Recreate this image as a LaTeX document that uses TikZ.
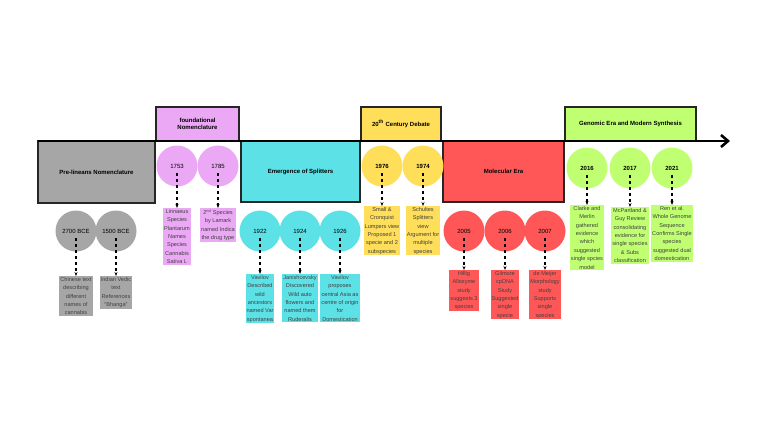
\documentclass[tikz,border=0pt]{standalone}
\usepackage{fontspec}
\setmainfont{Liberation Sans}
\usetikzlibrary{arrows.meta}
\definecolor{cgray}{HTML}{A6A6A6}
\definecolor{cpink}{HTML}{EBA8F5}
\definecolor{ccyan}{HTML}{5CE1E6}
\definecolor{cyell}{HTML}{FFDE59}
\definecolor{cred}{HTML}{FF5757}
\definecolor{cgreen}{HTML}{C1FF72}

\begin{document}
\begin{tikzpicture}[x=1pt,y=-1pt]

\tikzstyle era=[draw=black!85, line width=1.4pt, font=\fontsize{6}{7}\selectfont\bfseries, align=center, inner sep=0pt]
\tikzstyle year=[circle, minimum size=41pt, inner sep=0pt, font=\fontsize{6}{7}\selectfont]
\tikzstyle note=[align=center, inner sep=1pt, font=\fontsize{5.6}{8.4}\selectfont, text=black!75, anchor=north]
\tikzstyle link=[-{Stealth[length=4pt]}, dashed, line width=1.1pt]

\useasboundingbox (0,0) rectangle (768,432);

% eras
\node (pre) [era, fill=cgray, minimum width=117pt, minimum height=62pt] at (96.5,172) {Pre-lineans Nomenclature};
\node (fnd) [era, fill=cpink, minimum width=83pt, minimum height=34pt] at (197.5,124) {foundational\\Nomenclature};
\node (spl) [era, fill=ccyan, minimum width=119pt, minimum height=61pt] at (300.5,171.5) {Emergence of Splitters};
\node (deb) [era, fill=cyell, minimum width=80pt, minimum height=34pt] at (401,124) {20\textsuperscript{th} Century Debate};
\node (mol) [era, fill=cred, minimum width=121pt, minimum height=61pt] at (503.5,171.5) {Molecular Era};
\node (gen) [era, fill=cgreen, minimum width=131pt, minimum height=34pt] at (630.5,124) {Genomic Era and Modern Synthesis};

% timeline
\coordinate (t0) at (38,141);
\coordinate (t1) at (730,141);
\draw [-{Straight Barb[length=7pt,width=12pt]}, line width=2.6pt] (t0) -- (t1);

% years
\node (y1) [year, fill=cgray] at (76,231) {2700 BCE};
\node (y2) [year, fill=cgray] at (116,231) {1500 BCE};
\node (y3) [year, fill=cpink] at (177,166) {1753};
\node (y4) [year, fill=cpink] at (218,166) {1785};
\node (y5) [year, fill=ccyan] at (260,231) {1922};
\node (y6) [year, fill=ccyan] at (300,231) {1924};
\node (y7) [year, fill=ccyan] at (340,231) {1926};
\node (y8) [year, fill=cyell, font=\fontsize{6}{7}\selectfont\bfseries] at (382,166) {1976};
\node (y9) [year, fill=cyell, font=\fontsize{6}{7}\selectfont\bfseries] at (423,166) {1974};
\node (y10) [year, fill=cred] at (464,231) {2005};
\node (y11) [year, fill=cred] at (505,231) {2006};
\node (y12) [year, fill=cred] at (545,231) {2007};
\node (y13) [year, fill=cgreen, font=\fontsize{6}{7}\selectfont\bfseries] at (587,168) {2016};
\node (y14) [year, fill=cgreen, font=\fontsize{6}{7}\selectfont\bfseries] at (630,168) {2017};
\node (y15) [year, fill=cgreen, font=\fontsize{6}{7}\selectfont\bfseries] at (672,168) {2021};

% notes
\node (n1) [note, fill=cgray] at (76,276) {Chinese text\\describing\\different\\names of\\cannabis};
\node (n2) [note, fill=cgray] at (116,276) {Indian Vedic\\text\\References\\``Bhanga''};
\node (n3) [note, fill=cpink] at (177,208) {Linnaeus\\Species\\Plantarum\\Names\\Species\\Cannabis\\Sativa L};
\node (n4) [note, fill=cpink] at (218,208) {2\textsuperscript{nd} Species\\by Lamark\\named Indica\\the drug type};
\node (n5) [note, fill=ccyan] at (260,274) {Vavilov\\Described\\wild\\ancestors\\named Var\\spontanea};
\node (n6) [note, fill=ccyan] at (300,274) {Janishcevsky\\Discovered\\Wild auto\\flowers and\\named them\\Ruderalis};
\node (n7) [note, fill=ccyan] at (340,274) {Vavilov\\proposes\\central Asia as\\centre of origin\\for\\Domestication};
\node (n8) [note, fill=cyell] at (382,206) {Small \&\\Cronquist\\Lumpers view\\Proposed 1\\specie and 2\\subspecies};
\node (n9) [note, fill=cyell] at (423,206) {Schultes\\Splitters\\view\\Argument for\\multiple\\species};
\node (n10) [note, fill=cred] at (464,270) {Hillig\\Allozyme\\study\\suggests 3\\species};
\node (n11) [note, fill=cred] at (505,270) {Gilmore\\cpDNA\\Study\\Suggested\\single\\specie};
\node (n12) [note, fill=cred] at (545,270) {de Meijer\\Morphology\\study\\Supports\\single\\species};
\node (n13) [note, fill=cgreen] at (587,205) {Clarke and\\Merlin\\gathered\\evidence\\which\\suggested\\single spcies\\model};
\node (n14) [note, fill=cgreen] at (630,207) {McPartland \&\\Guy Review\\consolidating\\evidence for\\single species\\\& Subs\\classification};
\node (n15) [note, fill=cgreen] at (672,205) {Ren et al.\\Whole Genome\\Sequence\\Confirms Single\\species\\suggested dual\\domestication};

\foreach \i in {1,...,15}
{
\draw [link] (y\i.center) ++(0,7) -- (n\i.north);
}

\end{tikzpicture}
\end{document}
